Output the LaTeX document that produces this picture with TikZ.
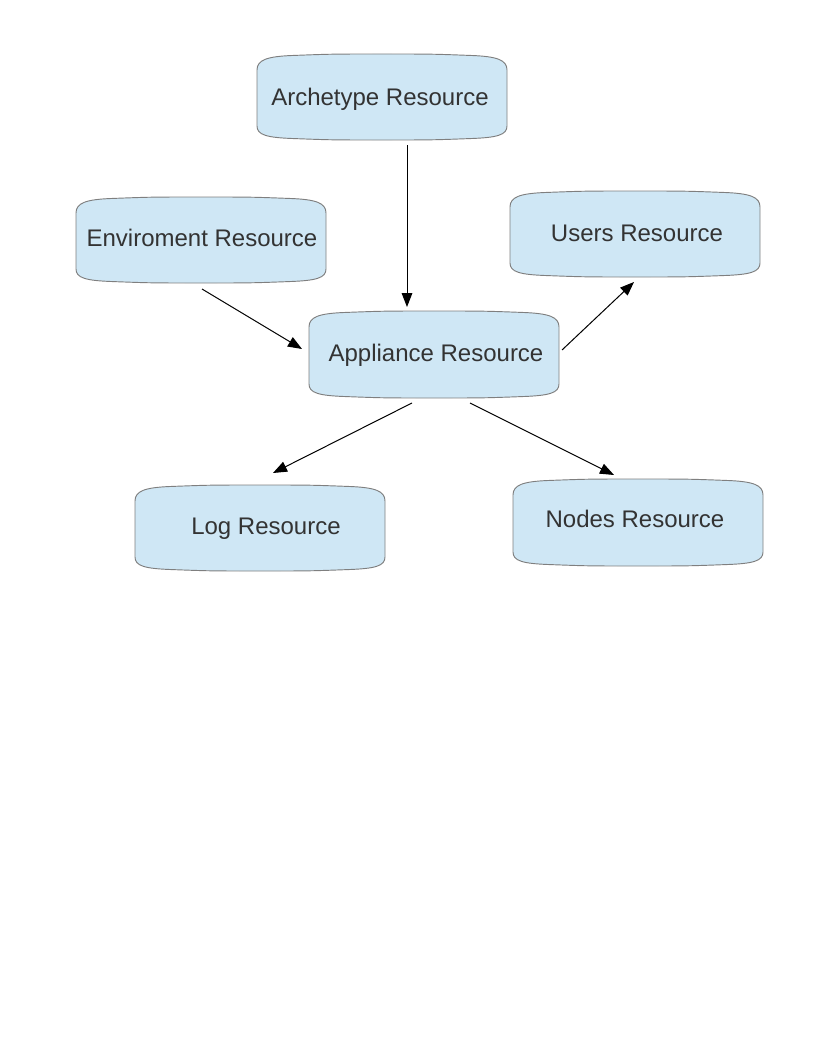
\documentclass[tikz,border=0pt]{standalone}
\usepackage{fontspec}
\setmainfont{Liberation Sans}
\usetikzlibrary{arrows.meta}
\definecolor{boxfill}{HTML}{CFE7F5}
\definecolor{boxline}{HTML}{7F7F7F}
\definecolor{txt}{HTML}{333333}
\tikzset{
  boxshape/.style={fill=boxfill, draw=boxline, line width=0.7pt},
  boxnode/.style={rectangle, inner sep=0pt, outer sep=0pt},
  boxtext/.style={inner sep=0pt, text=txt, font=\fontsize{18pt}{21pt}\selectfont},
  arr/.style={draw=black, line width=0.75pt, -{Triangle[length=10.5pt,width=8pt]}}
}
% name, x0, y0, x1, y1, dx, dy, text
\newcommand\resbox[8]{%
  \path[boxshape] (#2,#3+16) .. controls (#2,#3+6) and (#2+10,#3+2.5) .. (#2+35,#3+1.5)
     .. controls ({(#2+#4)/2-50},#3) .. ({(#2+#4)/2},#3)
     .. controls ({(#2+#4)/2+50},#3) .. (#4-35,#3+1.5)
     .. controls (#4-10,#3+2.5) and (#4,#3+6) .. (#4,#3+16)
     -- (#4,#5-14) .. controls (#4,#5-5) and (#4-10,#5-2.5) .. (#4-35,#5-1.5)
     .. controls ({(#2+#4)/2+50},#5) .. ({(#2+#4)/2},#5)
     .. controls ({(#2+#4)/2-50},#5) .. (#2+35,#5-1.5)
     .. controls (#2+10,#5-2.5) and (#2,#5-5) .. (#2,#5-14) -- cycle;
  \node[boxnode, minimum width={(#4-#2)*0.75pt}, minimum height={(#5-#3)*0.75pt}]
     (#1) at ({(#2+#4)/2},{(#3+#5)/2}) {};
  \node[boxtext] (#1-t) at ([shift={(#6,#7)}]#1.center) {#8};
}
\begin{document}
\begin{tikzpicture}[x=0.75pt, y=-0.75pt]
\useasboundingbox (0,0) rectangle (816,1056);
\resbox{arch}{257}{54}{507}{140}{-2}{2}{Archetype Resource}
\resbox{env}{76}{197}{326}{283}{1}{-2}{Enviroment Resource}
\resbox{users}{510}{191}{760}{277}{2}{-1}{Users Resource}
\resbox{app}{309}{311}{559}{398}{2}{1}{Appliance Resource}
\resbox{log}{135}{485}{385}{571}{6}{1}{Log Resource}
\resbox{nodes}{513}{479}{763}{566}{-3}{-4}{Nodes Resource}

\draw[arr] ([shift={(25,5)}]arch.south) -- ([shift={(-27,-4)}]app.north);
\draw[arr] ([shift={(1,6)}]env.south) -- ([shift={(-7,-5.5)}]app.west);
\draw[arr] ([shift={(3,-4.5)}]app.east) -- ([shift={(-1,5)}]users.south);
\draw[arr] ([shift={(-22,5)}]app.south) -- ([shift={(13,-12)}]log.north);
\draw[arr] ([shift={(36,5)}]app.south) -- ([shift={(-24,-4)}]nodes.north);
\end{tikzpicture}
\end{document}
